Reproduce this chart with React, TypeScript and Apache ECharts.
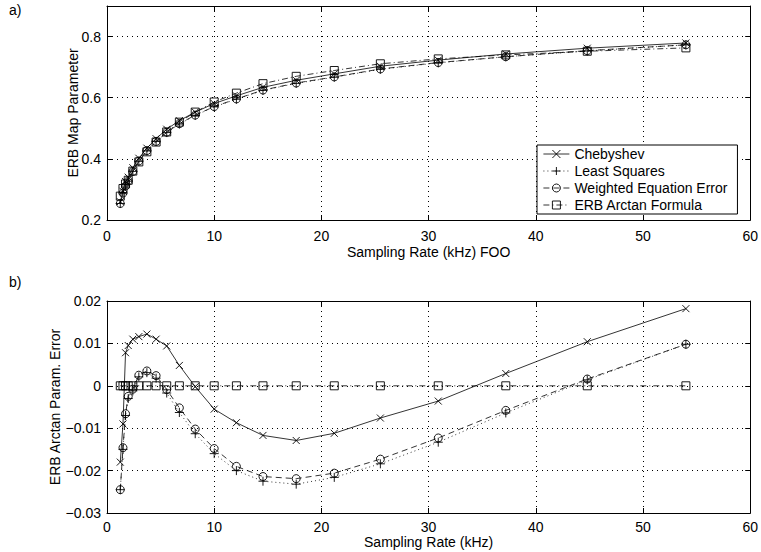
import React, { useEffect, useRef } from "react";
import * as echarts from "echarts";

// Sampling rates (kHz)
const rates = [1.24, 1.49, 1.73, 1.98, 2.41, 2.97, 3.72, 4.58, 5.57, 6.75, 8.23, 10, 12.07, 14.55, 17.65, 21.2, 25.5, 30.9, 37.2, 44.8, 54];

// a) ERB map parameter
const chebTop = [0.26, 0.294, 0.326, 0.34, 0.371, 0.402, 0.435, 0.466, 0.497, 0.525, 0.553, 0.581, 0.606, 0.634, 0.657, 0.678, 0.703, 0.723, 0.743, 0.762, 0.779];
const lsTop = [0.254, 0.288, 0.311, 0.327, 0.359, 0.392, 0.426, 0.457, 0.486, 0.514, 0.542, 0.57, 0.595, 0.624, 0.647, 0.667, 0.693, 0.714, 0.734, 0.753, 0.773];
const weeTop = [0.254, 0.288, 0.311, 0.328, 0.359, 0.393, 0.427, 0.457, 0.487, 0.515, 0.543, 0.571, 0.596, 0.625, 0.648, 0.668, 0.694, 0.715, 0.734, 0.754, 0.773];
const arctanTop = [0.278, 0.303, 0.318, 0.33, 0.36, 0.39, 0.423, 0.455, 0.488, 0.52, 0.553, 0.586, 0.615, 0.646, 0.67, 0.689, 0.711, 0.727, 0.74, 0.752, 0.763];

// b) error relative to ERB arctan formula
const chebErr = [-0.018, -0.009, 0.0078, 0.0095, 0.011, 0.0116, 0.0122, 0.011, 0.0094, 0.0048, -0.0002, -0.0055, -0.0087, -0.0117, -0.0129, -0.0112, -0.0076, -0.0036, 0.0029, 0.0104, 0.0182];
const lsErr = [-0.0245, -0.015, -0.007, -0.003, -0.0012, 0.0021, 0.0031, 0.0018, -0.0017, -0.0063, -0.0113, -0.016, -0.02, -0.0225, -0.0232, -0.0216, -0.0184, -0.0133, -0.0064, 0.0014, 0.0098];
const weeErr = [-0.0245, -0.0146, -0.0066, -0.0025, -0.0008, 0.0025, 0.0035, 0.0024, -0.0009, -0.0052, -0.0102, -0.0148, -0.019, -0.0214, -0.0219, -0.0206, -0.0173, -0.0123, -0.0058, 0.0016, 0.0098];
const arctanErr = [0, 0, 0, 0, 0, 0, 0, 0, 0, 0, 0, 0, 0, 0, 0, 0, 0, 0, 0, 0, 0];

const seriesNames = ["Chebyshev", "Least Squares", "Weighted Equation Error", "ERB Arctan Formula"];
const xTicks = { min: 0, max: 60, interval: 10 };

const FONT = "'Liberation Sans', Arial, Helvetica, sans-serif";
const FS = 14;

const symbols = [
  "path://M0,0L10,10M10,0L0,10",
  "path://M5,0L5,10M0,5L10,5",
  "circle",
  "rect",
];
const symbolSizes = [7, 9, 8, 8];
const dashes: any[] = ["solid", [1, 3], [6, 4], [6, 3, 1, 3]];

function minusFmt(v: number) {
  const s = String(Math.round(v * 1000) / 1000);
  return s.replace("-", "\u2212");
}

export default function App() {
  const ref = useRef<HTMLDivElement>(null);
  useEffect(() => {
    if (!ref.current) return;
    const chart = echarts.init(ref.current, null, { renderer: "svg" });

    const grids = [
      { left: 107, top: 6, width: 650, height: 214 },
      { left: 107, top: 301, width: 650, height: 212 },
    ];

    const splitLine = { show: true, lineStyle: { color: "#000", width: 1, type: [1, 4] as any } };
    const axisLine = { show: true, onZero: false, lineStyle: { color: "#000", width: 1 } };
    const axisTick = { show: true, inside: true, length: 5, lineStyle: { color: "#000", width: 1 } };
    const labelStyle = { color: "#000", fontFamily: FONT, fontSize: FS, lineHeight: 14 };

    const xAxes: any[] = [];
    const yAxes: any[] = [];
    const xNames = ["Sampling Rate (kHz) FOO", "Sampling Rate (kHz)"];
    const xNameGaps = [25, 22];
    const yNames = ["ERB Map Parameter", "ERB Arctan Param. Error"];
    const yNameGaps = [27, 45];
    const yRanges = [
      { min: 0.2, max: 0.9, interval: 0.2 },
      { min: -0.03, max: 0.02, interval: 0.01 },
    ];

    [0, 1].forEach((g) => {
      xAxes.push({
        type: "value", gridIndex: g, position: "bottom", ...xTicks,
        axisLine, axisTick, splitLine,
        axisLabel: { ...labelStyle, margin: g === 0 ? 9 : 7 },
        name: xNames[g], nameLocation: "middle", nameGap: xNameGaps[g],
        nameMoveOverlap: false,
        nameTextStyle: { ...labelStyle },
      });
      xAxes.push({
        type: "value", gridIndex: g, position: "top", ...xTicks,
        axisLine, axisTick, splitLine: { show: false }, axisLabel: { show: false },
      });
      yAxes.push({
        type: "value", gridIndex: g, position: "left", ...yRanges[g],
        axisLine, axisTick, splitLine,
        axisLabel: { ...labelStyle, margin: 6, showMaxLabel: g === 0 ? false : true, formatter: (v: number) => minusFmt(v) },
        name: yNames[g], nameLocation: "middle", nameGap: yNameGaps[g],
        nameMoveOverlap: false,
        nameTextStyle: { ...labelStyle },
      });
      yAxes.push({
        type: "value", gridIndex: g, position: "right", ...yRanges[g],
        axisLine, axisTick, splitLine: { show: false }, axisLabel: { show: false },
      });
    });

    const topData = [chebTop, lsTop, weeTop, arctanTop];
    const errData = [chebErr, lsErr, weeErr, arctanErr];

    const series: any[] = [];
    [topData, errData].forEach((set, g) => {
      set.forEach((vals, k) => {
        series.push({
          type: "line",
          name: seriesNames[k],
          xAxisIndex: g * 2,
          yAxisIndex: g * 2,
          data: rates.map((x, i) => [x, vals[i]]),
          symbol: symbols[k],
          symbolSize: symbolSizes[k],
          showAllSymbol: true,
          lineStyle: { color: "#000", width: 0.8, type: dashes[k] },
          itemStyle: { color: "transparent", borderColor: "#000", borderWidth: 0.9 },
          emphasis: { disabled: true },
          z: 3 + k,
        });
      });
    });

    chart.setOption({
      animation: false,
      backgroundColor: "#fff",
      textStyle: { fontFamily: FONT },
      grid: grids.map((g) => ({ ...g, show: false })),
      xAxis: xAxes,
      yAxis: yAxes,
      legend: {
        data: seriesNames,
        orient: "vertical",
        left: 537,
        top: 145,
        padding: [2, 10, 2, 6],
        itemWidth: 26,
        itemHeight: 10,
        itemGap: 3,
        backgroundColor: "#fff",
        borderColor: "#000",
        borderWidth: 1,
        borderRadius: 0,
        selectedMode: false,
        itemStyle: { borderWidth: 0.9 },
        lineStyle: { width: 0.8 },
        textStyle: { color: "#000", fontFamily: FONT, fontSize: FS },
        z: 10,
      },
      graphic: [
        { type: "text", left: 9, top: 3, style: { text: "a)", font: `${FS}px ${FONT}`, fill: "#000" } },
        { type: "text", left: 9, top: 275, style: { text: "b)", font: `${FS}px ${FONT}`, fill: "#000" } },
      ],
      series,
    });
    return () => chart.dispose();
  }, []);
  return <div ref={ref} style={{ position: "fixed", left: 0, top: 0, width: 761, height: 552 }} />;
}
